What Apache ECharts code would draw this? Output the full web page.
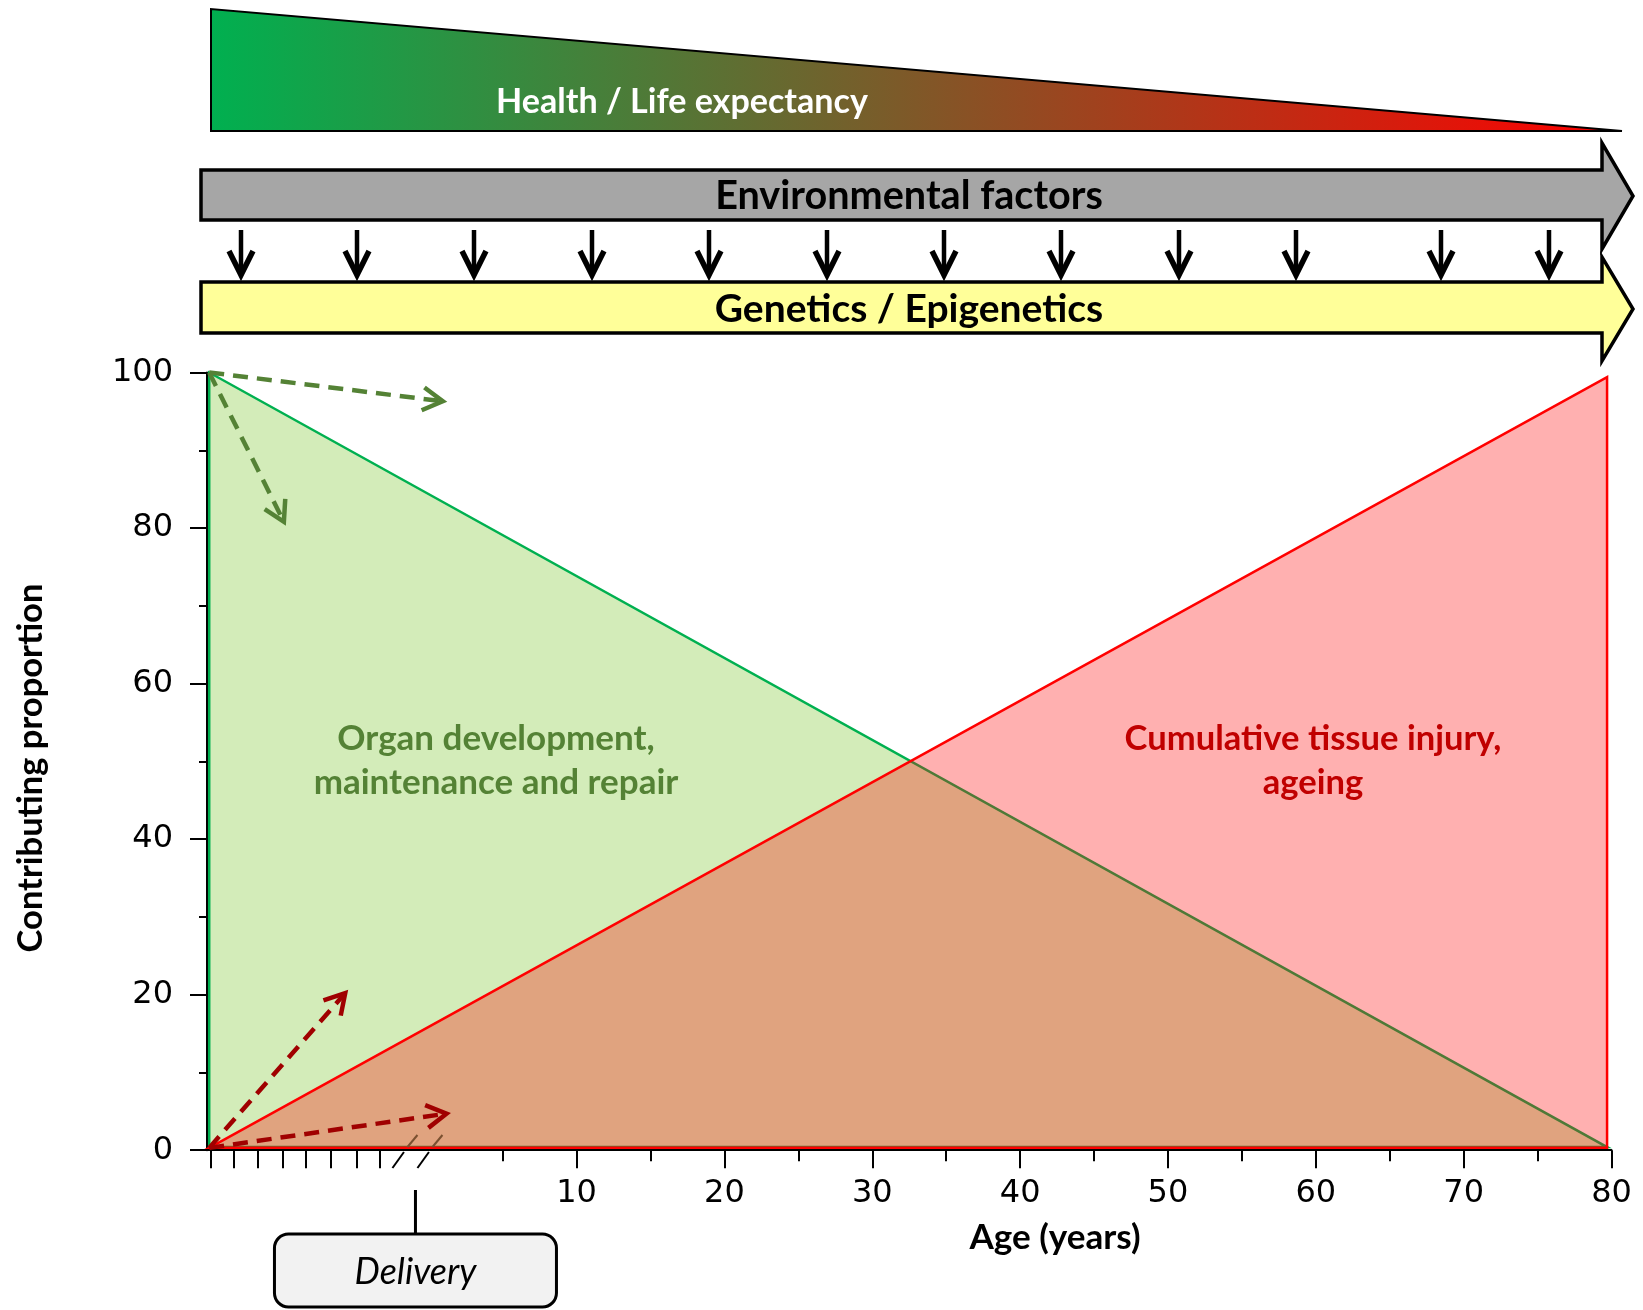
<!DOCTYPE html>
<html>
<head>
<meta charset="utf-8">
<script src="https://cdn.jsdelivr.net/npm/echarts@6/dist/echarts.min.js"></script>
<style>
html,body{margin:0;padding:0;background:#fff;}
#chart{width:1643px;height:1310px;}
</style>
</head>
<body>
<div id="chart"></div>
<script>
// ---------------- data (axis units: years; prenatal period compressed left of 0) ----------------
const AGE_START = -14.85;            // conception (start of curves)
const AGE_END = 79.7;                // end of curves
const DEVELOPMENT = [100, 0.4];      // organ development/maintenance/repair at start, end
const INJURY = [0.3, 99.4];          // cumulative tissue injury/ageing at start, end
const X_MIN = -15, X_MAX = 80;
const YEAR_TICKS = [10, 20, 30, 40, 50, 60, 70, 80];
const HALF_TICKS = [5, 15, 25, 35, 45, 55, 65, 75];
const PRENATAL_TICKS = [-14.78, -13.2, -11.6, -9.9, -8.3, -6.6, -4.9, -3.3];
const DELIVERY = -0.9;
// dashed arrows: [x0, y0, x1, y1]
const GREEN_ARROWS = [[-14.85, 100, 0.95, 96.3], [-14.85, 100, -9.8, 80.8]];
const RED_ARROWS = [[-14.85, 0.3, -5.65, 20.2], [-14.85, 0.3, 1.2, 4.7]];
// labels
const Y_NAME = 'Contributing proportion';
const X_NAME = 'Age (years)';
const TOP_LABEL = 'Health / Life expectancy';
const ENV_LABEL = 'Environmental factors';
const GEN_LABEL = 'Genetics / Epigenetics';
const DEV_LABEL = ['Organ development,', 'maintenance and repair'];
const INJ_LABEL = ['Cumulative tissue injury,', 'ageing'];
const DELIVERY_LABEL = 'Delivery';
// ------------------------------------------------------------------------------------------------

const FONT = 'Lato';
const mctx = document.createElement('canvas').getContext('2d');
function fitSize(text, weight, family, width) {
  mctx.font = weight + ' 100px ' + family;
  return 100 * width / mctx.measureText(text).width;
}

function triangleSeries(name, ys, fill, stroke) {
  return {
    type: 'custom',
    name: name,
    coordinateSystem: 'cartesian2d',
    data: [[AGE_START, ys[0], AGE_END, ys[1]]],
    encode: { x: [0, 2], y: [1, 3] },
    renderItem: function (params, api) {
      const x0 = api.value(0), y0 = api.value(1), x1 = api.value(2), y1 = api.value(3);
      const base = Math.min(y0, y1);
      const pts = [api.coord([x0, base]), api.coord([x0, y0]), api.coord([x1, y1]), api.coord([x1, base])];
      return {
        type: 'polygon',
        shape: { points: pts },
        style: { fill: fill, stroke: stroke, lineWidth: 2.5, lineJoin: 'miter' }
      };
    },
    animation: false
  };
}

const tickStyle = { color: '#000', width: 2 };
const option = {
  backgroundColor: '#fff',
  animation: false,
  grid: { left: 207, top: 372.5, width: 1404.5, height: 777.7 },
  xAxis: [
    {
      type: 'value', min: X_MIN, max: X_MAX,
      axisLine: { onZero: false, lineStyle: { color: '#000', width: 2 } },
      axisTick: { show: true, customValues: PRENATAL_TICKS.concat(YEAR_TICKS), length: 18, lineStyle: tickStyle },
      axisLabel: { customValues: YEAR_TICKS, fontFamily: 'DejaVu Sans', fontSize: 32, color: '#000', margin: 27 },
      splitLine: { show: false }
    },
    {
      type: 'value', min: X_MIN, max: X_MAX, position: 'bottom',
      axisLine: { show: false, onZero: false },
      axisTick: { show: true, customValues: HALF_TICKS, length: 11, lineStyle: tickStyle },
      axisLabel: { show: false },
      splitLine: { show: false }
    }
  ],
  yAxis: {
    type: 'value', min: 0, max: 100, interval: 20,
    axisLine: { show: true, onZero: false, lineStyle: { color: '#000', width: 2 } },
    axisTick: { show: true, length: 17, lineStyle: tickStyle },
    minorTick: { show: true, splitNumber: 2, length: 8, lineStyle: tickStyle },
    axisLabel: { fontFamily: 'DejaVu Sans', fontSize: 32, color: '#000', margin: 34 },
    splitLine: { show: false }
  },
  series: [
    triangleSeries('Organ development, maintenance and repair', DEVELOPMENT, 'rgba(146,208,80,0.4)', '#00b050'),
    triangleSeries('Cumulative tissue injury, ageing', INJURY, 'rgba(255,0,0,0.31)', '#ff0000')
  ]
};

const chart = echarts.init(document.getElementById('chart'), null, { renderer: 'canvas' });
chart.setOption(option);

const px = (x, y) => chart.convertToPixel({ xAxisIndex: 0, yAxisIndex: 0 }, [x, y]);

function dashedArrow(a, color) {
  const p0 = px(a[0], a[1]), p1 = px(a[2], a[3]);
  const ang = Math.atan2(p1[1] - p0[1], p1[0] - p0[0]);
  const L = 23, phi = Math.PI / 6;
  const w1 = [p1[0] - L * Math.cos(ang - phi), p1[1] - L * Math.sin(ang - phi)];
  const w2 = [p1[0] - L * Math.cos(ang + phi), p1[1] - L * Math.sin(ang + phi)];
  return [
    { type: 'line', z: 50, shape: { x1: p0[0], y1: p0[1], x2: p1[0] - 3 * Math.cos(ang), y2: p1[1] - 3 * Math.sin(ang) },
      style: { stroke: color, lineWidth: 4.5, lineDash: [15, 9] } },
    { type: 'polyline', z: 50, shape: { points: [w1, p1, w2] },
      style: { stroke: color, lineWidth: 4.5, fill: null, lineJoin: 'miter' } }
  ];
}

const els = [];
// Health gradient wedge
els.push({
  type: 'polygon', z: 10,
  shape: { points: [[211, 9], [211, 131], [1622, 131]] },
  style: {
    fill: { type: 'linear', x: 0, y: 0, x2: 1, y2: 0, colorStops: [{ offset: 0, color: '#00b050' }, { offset: 1, color: '#ff0000' }] },
    stroke: '#000', lineWidth: 2
  }
});
els.push({ type: 'text', z: 11, x: 682, y: 102,
  style: { text: TOP_LABEL, fill: '#fff', font: 'bold ' + fitSize(TOP_LABEL, 'bold', FONT, 372).toFixed(1) + 'px ' + FONT, textAlign: 'center', textVerticalAlign: 'middle' } });
// Environmental factors arrow
els.push({
  type: 'polygon', z: 10,
  shape: { points: [[201, 170], [1602, 170], [1602, 143], [1633, 196], [1602, 249], [1602, 220], [201, 220]] },
  style: { fill: '#a6a6a6', stroke: '#000', lineWidth: 3.5, lineJoin: 'miter' }
});
els.push({ type: 'text', z: 11, x: 909, y: 196,
  style: { text: ENV_LABEL, fill: '#000', font: 'bold ' + fitSize(ENV_LABEL, 'bold', FONT, 388).toFixed(1) + 'px ' + FONT, textAlign: 'center', textVerticalAlign: 'middle' } });
// Genetics arrow
els.push({
  type: 'polygon', z: 10,
  shape: { points: [[201, 282], [1602, 282], [1602, 257], [1633, 309], [1602, 361], [1602, 333], [201, 333]] },
  style: { fill: '#ffff99', stroke: '#000', lineWidth: 3.5, lineJoin: 'miter' }
});
els.push({ type: 'text', z: 11, x: 909, y: 309,
  style: { text: GEN_LABEL, fill: '#000', font: 'bold ' + fitSize(GEN_LABEL, 'bold', FONT, 388).toFixed(1) + 'px ' + FONT, textAlign: 'center', textVerticalAlign: 'middle' } });
// small down arrows between the two bars
[241, 357, 474, 592, 709, 827, 944, 1061, 1179, 1296, 1441, 1549].forEach(function (x) {
  els.push({ type: 'line', z: 11, shape: { x1: x, y1: 230, x2: x, y2: 272 }, style: { stroke: '#000', lineWidth: 4.5 } });
  els.push({ type: 'polyline', z: 11, shape: { points: [[x - 12, 251], [x, 275], [x + 12, 251]] },
    style: { stroke: '#000', lineWidth: 5.5, fill: null, lineJoin: 'miter' } });
});
// dashed arrows
GREEN_ARROWS.forEach(a => dashedArrow(a, '#548235').forEach(e => els.push(e)));
RED_ARROWS.forEach(a => dashedArrow(a, '#a00000').forEach(e => els.push(e)));
// region labels
const devSize = fitSize(DEV_LABEL[1], 'bold', FONT, 365);
els.push({ type: 'text', z: 60, x: 496, y: 761,
  style: { text: DEV_LABEL.join('\n'), fill: '#548235', font: 'bold ' + devSize.toFixed(1) + 'px ' + FONT, lineHeight: 44, textAlign: 'center', textVerticalAlign: 'middle' } });
const injSize = fitSize(INJ_LABEL[0], 'bold', FONT, 377);
els.push({ type: 'text', z: 60, x: 1313, y: 761,
  style: { text: INJ_LABEL.join('\n'), fill: '#c00000', font: 'bold ' + injSize.toFixed(1) + 'px ' + FONT, lineHeight: 44, textAlign: 'center', textVerticalAlign: 'middle' } });
// axis titles
els.push({ type: 'text', z: 60, x: 31, y: 768, rotation: Math.PI / 2,
  style: { text: Y_NAME, fill: '#000', font: 'bold ' + fitSize(Y_NAME, 'bold', FONT, 369).toFixed(1) + 'px ' + FONT, textAlign: 'center', textVerticalAlign: 'middle' } });
els.push({ type: 'text', z: 60, x: 1055, y: 1238,
  style: { text: X_NAME, fill: '#000', font: 'bold ' + fitSize(X_NAME, 'bold', FONT, 171).toFixed(1) + 'px ' + FONT, textAlign: 'center', textVerticalAlign: 'middle' } });
// axis break marks near delivery
const dx = px(DELIVERY, 0)[0];
[[-23, -8], [2, 17]].forEach(function (o) {
  els.push({ type: 'line', z: 60, shape: { x1: dx + o[0], y1: 1168, x2: dx + o[0] + 11.5, y2: 1152 }, style: { stroke: '#000', lineWidth: 2 } });
  els.push({ type: 'line', z: 60, shape: { x1: dx + o[1], y1: 1147, x2: dx + o[1] + 10, y2: 1135 }, style: { stroke: '#7a5030', lineWidth: 2 } });
});
// delivery connector and box
els.push({ type: 'line', z: 60, shape: { x1: dx, y1: 1190, x2: dx, y2: 1234 }, style: { stroke: '#000', lineWidth: 3 } });
els.push({ type: 'rect', z: 60, shape: { x: dx - 141, y: 1234, width: 282, height: 73, r: 14 },
  style: { fill: '#f2f2f2', stroke: '#000', lineWidth: 3 } });
els.push({ type: 'text', z: 61, x: dx, y: 1272,
  style: { text: DELIVERY_LABEL, fill: '#000', font: 'italic ' + fitSize(DELIVERY_LABEL, 'italic', FONT, 122).toFixed(1) + 'px ' + FONT, textAlign: 'center', textVerticalAlign: 'middle' } });

chart.setOption({ graphic: { elements: els } });
</script>
</body>
</html>
